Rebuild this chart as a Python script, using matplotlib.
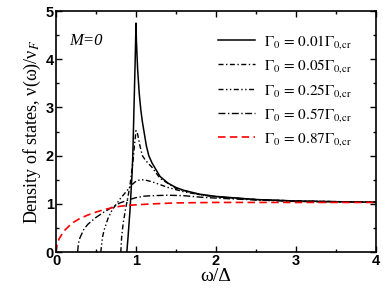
import numpy as np
import matplotlib
matplotlib.use("Agg")
import matplotlib.pyplot as plt
from matplotlib.ticker import MultipleLocator

plt.rcParams['mathtext.fontset'] = 'stix'

# curves: omega/Delta and nu(omega)/nu_F
w_001 = [0.885, 0.90, 0.925, 0.95, 0.96, 0.975, 0.99, 1.0, 1.005, 1.02, 1.04,
         1.06, 1.08, 1.10, 1.13, 1.16, 1.20, 1.30, 1.40, 1.50, 1.60, 1.80,
         2.0, 2.5, 3.0, 3.5, 4.0]
n_001 = [0.0, 0.3, 0.87, 1.6, 2.0, 3.0, 4.0, 4.75, 4.4, 3.8, 3.3,
         2.95, 2.7, 2.5, 2.2, 2.0, 1.85, 1.57, 1.43, 1.34, 1.28, 1.2,
         1.155, 1.09, 1.06, 1.045, 1.035]

w_005 = [0.81, 0.82, 0.84, 0.87, 0.90, 0.93, 0.96, 0.98, 1.0, 1.02, 1.05,
         1.08, 1.12, 1.20, 1.30, 1.50, 1.80, 2.0, 2.5, 3.0, 4.0]
n_005 = [0.0, 0.3, 0.6, 0.9, 1.15, 1.45, 1.85, 2.2, 2.52, 2.45, 2.2,
         2.0, 1.9, 1.76, 1.53, 1.32, 1.19, 1.15, 1.09, 1.06, 1.035]

w_025 = [0.56, 0.58, 0.60, 0.65, 0.70, 0.80, 0.90, 0.95, 1.0, 1.05, 1.10,
         1.20, 1.30, 1.40, 1.60, 1.80, 2.0, 2.5, 3.0, 4.0]
n_025 = [0.0, 0.3, 0.45, 0.7, 0.87, 1.1, 1.3, 1.4, 1.47, 1.5, 1.5,
         1.46, 1.4, 1.34, 1.25, 1.19, 1.15, 1.09, 1.06, 1.035]

w_057 = [0.27, 0.28, 0.30, 0.35, 0.40, 0.50, 0.60, 0.70, 0.80, 0.90, 1.0,
         1.10, 1.20, 1.40, 1.60, 1.80, 2.0, 2.5, 3.0, 4.0]
n_057 = [0.0, 0.18, 0.3, 0.48, 0.58, 0.72, 0.83, 0.93, 1.02, 1.08, 1.13,
         1.16, 1.17, 1.18, 1.17, 1.14, 1.12, 1.08, 1.05, 1.03]

w_087 = [0.0, 0.005, 0.015, 0.04, 0.10, 0.20, 0.30, 0.40, 0.50, 0.60, 0.70,
         0.80, 0.90, 1.0, 1.2, 1.5, 2.0, 3.0, 4.0]
n_087 = [0.0, 0.08, 0.16, 0.28, 0.44, 0.6, 0.7, 0.77, 0.83, 0.88, 0.92,
         0.95, 0.97, 0.98, 1.0, 1.02, 1.03, 1.03, 1.03]

labels = ['0.01', '0.05', '0.25', '0.57', '0.87']

fig = plt.figure(figsize=(3.85, 2.98), dpi=100)
ax = fig.add_axes([0.1455, 0.154, 0.831, 0.809])

ax.plot(w_001, n_001, color='black', lw=1.1, ls='-')
ax.plot(w_005, n_005, color='black', lw=1.0, ls=(0, (3.6, 1.8, 1.0, 1.8)))
ax.plot(w_025, n_025, color='black', lw=1.0, ls=(0, (3.6, 1.8, 1.0, 1.8, 1.0, 1.8)))
ax.plot(w_057, n_057, color='black', lw=1.0, ls=(0, (5.0, 1.8, 1.0, 1.8)))
ax.plot(w_087, n_087, color='#ff0000', lw=1.2, ls=(0, (4.5, 2.6)))

for line, lab in zip(ax.get_lines(), labels):
    line.set_label(r'$\Gamma_0\, =\, %s\Gamma_{0,\!\mathrm{cr}}$' % lab)

ax.legend(loc='upper right', bbox_to_anchor=(0.955, 0.947), frameon=False,
          fontsize=11, handlelength=2.4, handletextpad=0.6, labelspacing=0.42,
          borderaxespad=0.2)

ax.set_xlim(0, 4)
ax.set_ylim(0, 5)
ax.xaxis.set_major_locator(MultipleLocator(1))
ax.xaxis.set_minor_locator(MultipleLocator(0.5))
ax.yaxis.set_major_locator(MultipleLocator(1))
ax.yaxis.set_minor_locator(MultipleLocator(0.5))
ax.tick_params(which='both', direction='in', top=True, right=True, width=1.0)
ax.tick_params(which='major', length=4.5, pad=1.5)
ax.tick_params(which='minor', length=2.5)
for sp in ax.spines.values():
    sp.set_linewidth(1.2)
for t in ax.get_xticklabels() + ax.get_yticklabels():
    t.set_fontfamily('Liberation Sans')
    t.set_fontweight('bold')
    t.set_fontsize(10.5)

ax.set_xlabel('ω/Δ', fontsize=14, family='Liberation Serif', labelpad=0)
ax.set_ylabel(r'Density of states, ν(ω)/ν$_F$', fontsize=13,
              family='Liberation Serif', labelpad=2)
ax.text(0.04, 0.91, 'M=0', transform=ax.transAxes, fontsize=12,
        family='Liberation Serif', style='italic', va='top')

fig.savefig('out.png', dpi=100)
